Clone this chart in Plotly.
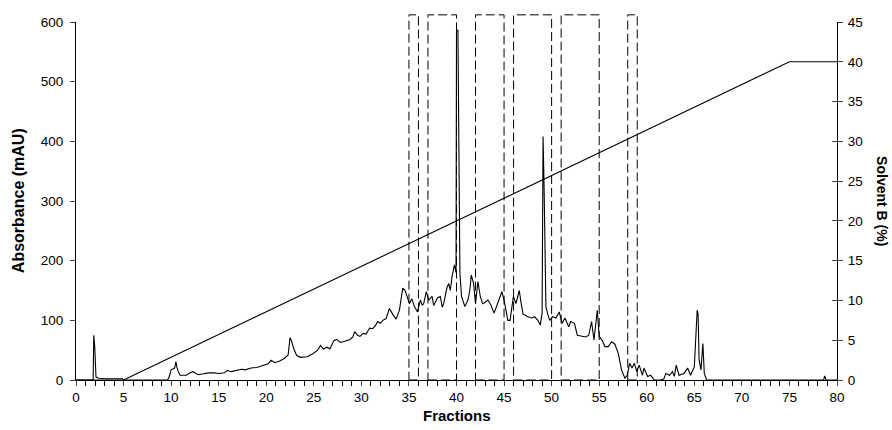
import plotly.graph_objects as go

# ---- data ----
fractions = [0, 1.8, 1.87, 1.97, 2.1, 2.4, 3.0, 4.0, 4.9, 5.0, 9.6, 9.75, 10.0, 10.37, 10.5, 10.6, 10.75, 10.95,
             11.6, 12.0, 12.3, 12.6, 12.85, 13.3, 13.9, 14.5, 15.0, 15.6, 15.9, 16.3, 17.0, 17.4, 17.8, 18.4,
             19.0, 19.5, 19.8, 20.2, 20.5, 20.9, 21.4, 21.9, 22.3, 22.5, 22.65, 22.9, 23.2, 23.6, 24.3, 24.9,
             25.4, 25.7, 26.0, 26.4, 26.7, 27.1, 27.4, 27.8, 28.1, 28.5, 28.8, 29.1, 29.3, 29.6, 29.85, 30.2,
             30.5, 30.87, 31.2, 31.5, 31.73, 32.0, 32.25, 32.6, 32.95, 33.3, 33.65, 34.0, 34.35, 34.6, 34.8,
             35.05, 35.3, 35.58, 35.9, 36.2, 36.4, 36.55, 36.83, 37.08, 37.3, 37.43, 37.6, 37.78, 38.0, 38.3,
             38.5, 38.65, 38.83, 39.0, 39.18, 39.35, 39.53, 39.78, 39.95, 40.0, 40.15, 40.25, 40.36, 40.53,
             40.7, 40.88, 41.2, 41.4, 41.55, 41.7, 41.8, 42.0, 42.25, 42.4, 42.5, 42.75, 43.0, 43.3, 43.6,
             43.95, 44.3, 44.5, 44.77, 45.0, 45.2, 45.4, 45.63, 45.98, 46.25, 46.6, 46.8, 47.0, 47.2, 47.5,
             47.9, 48.2, 48.56, 48.8, 49.0, 49.1, 49.2, 49.28, 49.4, 49.6, 49.8, 50.1, 50.45, 50.8, 51.1,
             51.4, 51.8, 52.0, 52.4, 52.7, 53.2, 53.6, 53.9, 54.2, 54.45, 54.8, 55.0, 55.3, 55.6, 55.95, 56.3,
             56.65, 57.0, 57.2, 57.35, 57.7, 57.95, 58.2, 58.45, 58.7, 58.95, 59.2, 59.55, 59.7, 60.1, 60.4,
             60.8, 61.5, 61.8, 62.0, 62.4, 62.7, 62.9, 63.1, 63.4, 63.9, 64.3, 64.6, 65.0, 65.3, 65.4, 65.5,
             65.7, 65.9, 66.05, 66.3, 78.6, 78.7, 78.85, 80]
absorbance = [0, 0, 75, 56, 5, 3, 2, 2, 2, 0, 0, 3, 17, 20, 31, 22, 14, 8,
              8, 12, 14, 11, 9, 10, 12, 12, 11, 12, 16, 14, 16, 18, 17, 20,
              21, 23, 25, 27, 33, 29, 32, 36, 42, 71, 66, 52, 41, 38, 39, 44,
              50, 58, 52, 55, 52, 66, 68, 63, 64, 66, 68, 72, 81, 75, 73, 78,
              77, 87, 86, 92, 98, 95, 100, 103, 120, 110, 102, 117, 154, 150, 140,
              128, 136, 123, 114, 134, 125, 128, 148, 134, 138, 140, 125, 131, 138, 140,
              122, 128, 142, 155, 162, 150, 173, 193, 180, 586, 586, 390, 179, 140,
              130, 123, 134, 150, 176, 168, 162, 128, 165, 150, 140, 128, 130, 134, 126,
              112, 126, 135, 148, 134, 118, 100, 100, 140, 128, 150, 128, 110, 109, 106,
              104, 106, 100, 92, 112, 408, 330, 238, 123, 110, 100, 106, 104, 114, 95,
              104, 89, 98, 95, 75, 73, 72, 75, 98, 67, 117, 73, 67, 56, 56, 64,
              60, 45, 30, 17, 3, 8, 28, 20, 28, 14, 25, 8, 20, 6, 8,
              0, 0, 2, 11, 8, 14, 6, 25, 8, 11, 20, 8, 22, 117, 110, 34,
              17, 61, 11, 0, 0, 7, 0, 0]

gradient_fraction = [0, 5, 75, 80]
solvent_b = [0, 0, 40, 40]

collect_start = [35, 37, 42, 46, 51, 58]
collect_end = [36, 40, 45, 50, 55, 59]

x_ticks = list(range(0, 81, 5))
y_ticks = list(range(0, 601, 100))
y2_ticks = list(range(0, 46, 5))

FONT = "Liberation Sans, Arial, sans-serif"

fig = go.Figure()
fig.add_trace(go.Scatter(x=fractions, y=absorbance, mode="lines",
                         line=dict(color="black", width=1.1), showlegend=False))
fig.add_trace(go.Scatter(x=gradient_fraction, y=solvent_b, mode="lines", yaxis="y2",
                         line=dict(color="black", width=1.1), showlegend=False))
fig.add_trace(go.Scatter(x=[None], y=[None], yaxis="y3", showlegend=False))

for s, e in zip(collect_start, collect_end):
    fig.add_shape(type="rect", xref="x", yref="paper", x0=s, x1=e, y0=0, y1=1.02,
                  line=dict(color="black", width=1, dash="9px,4px"), layer="above")

fig.update_layout(
    width=892, height=430,
    margin=dict(l=76, r=55, t=22, b=50),
    paper_bgcolor="white", plot_bgcolor="white",
    font=dict(family=FONT, size=13.5, color="black"),
    xaxis=dict(range=[0, 80], tickvals=x_ticks, ticks="outside", ticklen=5, tickwidth=1,
               showline=True, linecolor="black", linewidth=1, showgrid=False, zeroline=False,
               minor=dict(dtick=1, ticks="outside", ticklen=5, tickwidth=1, tickcolor="black")),
    yaxis=dict(range=[0, 600], tickvals=y_ticks, ticks="outside", ticklen=5, tickwidth=1,
               ticklabelstandoff=4,
               showline=True, linecolor="black", linewidth=1, showgrid=False, zeroline=False),
    yaxis2=dict(range=[0, 45], tickvals=y2_ticks, overlaying="y", side="right", ticks="outside",
                ticklen=5, tickwidth=1, ticklabelstandoff=2, showline=True, linecolor="black", linewidth=1,
                showgrid=False, zeroline=False),
    yaxis3=dict(range=[0, 45], tickvals=y2_ticks, overlaying="y", side="right", ticks="inside",
                ticklen=5, tickwidth=1, showticklabels=False, showline=False,
                showgrid=False, zeroline=False),
    annotations=[
        dict(text="<b>Absorbance (mAU)</b>", xref="paper", yref="paper", x=-0.076, y=0.5,
             textangle=-90, showarrow=False, xanchor="center", yanchor="middle",
             font=dict(size=16, family=FONT)),
        dict(text="<b>Solvent B (%)</b>", xref="paper", yref="paper", x=1.059, y=0.5,
             textangle=90, showarrow=False, xanchor="center", yanchor="middle",
             font=dict(size=14, family=FONT)),
        dict(text="<b>Fractions</b>", xref="paper", yref="paper", x=0.5, y=-0.098,
             showarrow=False, xanchor="center", yanchor="middle",
             font=dict(size=15, family=FONT)),
    ],
)

fig.write_html("out.html", config={"displayModeBar": False},
               post_script="document.body.style.margin='0px';")
